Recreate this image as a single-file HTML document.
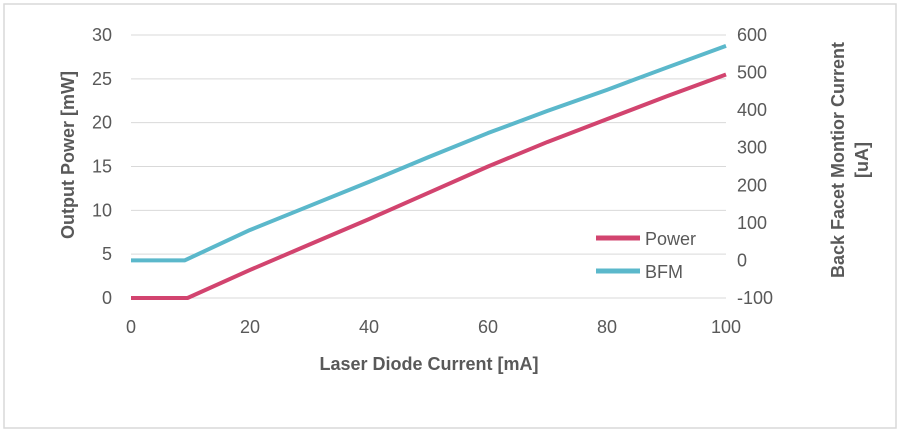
<!DOCTYPE html>
<html><head><meta charset="utf-8"><style>
body{margin:0;background:#fff;}
svg text{font-family:"Liberation Sans",sans-serif;fill:#595959;}
</style></head><body>
<svg width="901" height="433">
<rect x="4" y="4" width="892" height="424" fill="#fff" stroke="#d9d9d9" stroke-width="1.5"/>
<g id="grid"></g><g id="axes"></g><g id="series"></g>
<text font-size="18" font-weight="bold" text-anchor="middle" transform="rotate(-90 74 155)"><tspan x="74" y="155">Output Power [mW]</tspan></text>
<text font-size="18" font-weight="bold" text-anchor="middle" transform="rotate(-90 844 160)"><tspan x="844" y="160">Back Facet Montior Current</tspan><tspan x="844" y="184">[uA]</tspan></text>
<text x="429" y="370" font-size="18" font-weight="bold" text-anchor="middle">Laser Diode Current [mA]</text>
<line x1="596" y1="238" x2="640" y2="238" stroke="#d2446f" stroke-width="5"/>
<text x="645" y="245" font-size="18">Power</text>
<line x1="596" y1="271" x2="640" y2="271" stroke="#5bb8cb" stroke-width="5"/>
<text x="645" y="278" font-size="18">BFM</text>
</svg>
<script>
const xTicks=[0,20,40,60,80,100];
const yTicks=[0,5,10,15,20,25,30];
const y2Ticks=[-100,0,100,200,300,400,500,600];
const currents=[0,9.5,20,30,40,50,60,70,80,90,100];
const power=[0,0,3.2,6.1,9.0,12.0,15.0,17.8,20.4,23.0,25.5];
const bfmX=[0,9,20,30,40,50,60,70,80,90,100];
const bfm=[0,0,81,145,209,275,339,398,454,513,571];
const NS="http://www.w3.org/2000/svg";
const X=v=>131+v*5.95, Y=v=>298-v*(263/30), Y2=v=>298-(v+100)*(263/700);
const g=document.getElementById('grid'),a=document.getElementById('axes'),s=document.getElementById('series');
function mk(p,t,at){const e=document.createElementNS(NS,t);for(const k in at)e.setAttribute(k,at[k]);p.appendChild(e);return e;}
yTicks.forEach(v=>{
 const l=mk(g,'line',{x1:131,x2:726,y1:Y(v),y2:Y(v),stroke:'#d9d9d9','stroke-width':1});
 
 
 const t=mk(a,'text',{x:112,y:Y(v)+6,'font-size':18,'text-anchor':'end'});t.textContent=v;
 
 
});
y2Ticks.forEach(v=>{
 const t=mk(a,'text',{x:737,y:Y2(v)+6,'font-size':18});t.textContent=v;
 
 
});
xTicks.forEach(v=>{
 const t=mk(a,'text',{x:X(v),y:333,'font-size':18,'text-anchor':'middle'});t.textContent=v;
 
 
});
const ax=mk(a,'line',{x1:131,x2:726,y1:298,y2:298,stroke:'#d9d9d9'});


const p1=mk(s,'polyline',{points:currents.map((c,i)=>X(c)+','+Y(power[i])).join(' '),fill:'none',stroke:'#d2446f','stroke-width':4,'stroke-linejoin':'round'});


const p2=mk(s,'polyline',{points:bfmX.map((c,i)=>X(c)+','+Y2(bfm[i])).join(' '),fill:'none',stroke:'#5bb8cb','stroke-width':4,'stroke-linejoin':'round'});


</script>
</body></html>
